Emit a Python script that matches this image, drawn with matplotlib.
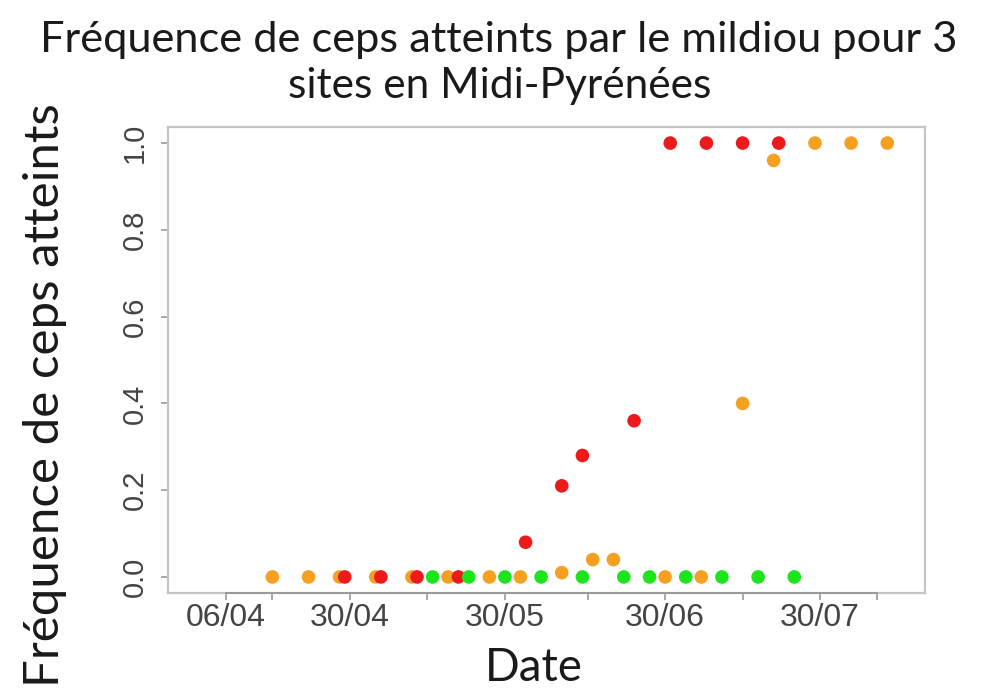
import matplotlib
matplotlib.use("Agg")
import matplotlib.pyplot as plt
import matplotlib.dates as mdates
import pandas as pd

YEAR = 2013

# --- data (dd/mm) ---
orange_dates = ["15/04", "22/04", "28/04", "05/05", "12/05", "19/05", "27/05", "02/06",
                "10/06", "16/06", "20/06", "30/06", "07/07", "15/07", "21/07", "29/07",
                "05/08", "12/08"]
orange_vals = [0, 0, 0, 0, 0, 0, 0, 0, 0.01, 0.04, 0.04, 0, 0, 0.40, 0.96, 1, 1, 1]

red_dates = ["29/04", "06/05", "13/05", "21/05", "03/06", "10/06", "14/06", "24/06",
             "01/07", "08/07", "15/07", "22/07"]
red_vals = [0, 0, 0, 0, 0.08, 0.21, 0.28, 0.36, 1, 1, 1, 1]

green_dates = ["16/05", "23/05", "30/05", "06/06", "14/06", "22/06", "27/06", "04/07",
               "11/07", "18/07", "25/07"]
green_vals = [0, 0, 0, 0, 0, 0, 0, 0, 0, 0, 0]

xtick_labels = ["06/04", "30/04", "30/05", "30/06", "30/07"]
xminor_ticks = ["15/04", "15/05", "15/06", "15/07", "10/08"]
yticks = [0.0, 0.2, 0.4, 0.6, 0.8, 1.0]

title = "Fréquence de ceps atteints par le mildiou pour 3\nsites en Midi-Pyrénées"
ylabel = "Fréquence de ceps atteints"
xlabel = "Date"


def to_num(lst):
    return mdates.date2num(pd.to_datetime([f"{d}/{YEAR}" for d in lst], format="%d/%m/%Y"))


fig = plt.figure(figsize=(9.84, 6.9), dpi=100)
ax = fig.add_axes([168 / 984, 1 - 593 / 690, (925 - 168) / 984, (593 - 127) / 690])

ms = 96
ax.scatter(to_num(orange_dates), orange_vals, s=ms, color="#F5A020", edgecolors="none", zorder=3)
ax.scatter(to_num(red_dates), red_vals, s=ms, color="#EC1A1A", edgecolors="none", zorder=4)
ax.scatter(to_num(green_dates), green_vals, s=ms, color="#1EE41E", edgecolors="none", zorder=5)

x0 = to_num(["26/03"])[0] - 0.2
x1 = to_num(["19/08"])[0] + 0.3
ax.set_xlim(x0, x1)
ax.set_ylim(-0.037, 1.037)

for s in ax.spines.values():
    s.set_color("#C4C4C4")
    s.set_linewidth(1.6)

tick_col = "#9A9A9A"
ax.set_xticks(to_num(xtick_labels))
ax.set_xticklabels(xtick_labels)
ax.set_xticks(to_num(xminor_ticks), minor=True)
ax.tick_params(axis="x", which="both", length=5, width=1.2, color=tick_col, pad=2,
               labelsize=23, labelcolor="#444444")
for t in ax.get_xticklabels():
    t.set_fontfamily("Liberation Sans")

ax.set_yticks(yticks)
ax.set_yticklabels([f"{v:.1f}" for v in yticks], rotation=90, va="center")
ax.tick_params(axis="y", length=5, width=1.2, color=tick_col, pad=9,
               labelsize=21, labelcolor="#444444")
for t in ax.get_yticklabels():
    t.set_fontfamily("Liberation Sans")

# separate x axis line (R style) from first to last tick
xa = to_num(["06/04", "10/08"])
ax.plot(xa, [-0.037, -0.037], color=tick_col, lw=1.4, clip_on=False, zorder=6)

font = "Lato"
t1 = fig.text(499 / 984, 1 - 40 / 690, title.split("\n")[0], ha="center", va="center",
              fontsize=28, family=font, color="#1a1a1a")
t2 = fig.text(500 / 984, 1 - 86 / 690, title.split("\n")[1], ha="center", va="center",
              fontsize=28, family=font, color="#1a1a1a")
yl = fig.text(45 / 984, 1 - 395 / 690, ylabel, rotation=90, ha="center", va="center",
              fontsize=32, family=font, color="#1a1a1a")
xl = fig.text(534 / 984, 1 - 668 / 690, xlabel, ha="center", va="center",
              fontsize=32, family=font, color="#1a1a1a")

# fit text sizes to measured extents in the reference
fig.canvas.draw()
r = fig.canvas.get_renderer()
for txt, target, dim in [(t1, 918, "w"), (t2, 425, "w"), (yl, 584, "h"), (xl, 98, "w")]:
    bb = txt.get_window_extent(r)
    cur = bb.width if dim == "w" else bb.height
    txt.set_fontsize(txt.get_fontsize() * target / cur)

fig.savefig("out.png", dpi=100)
